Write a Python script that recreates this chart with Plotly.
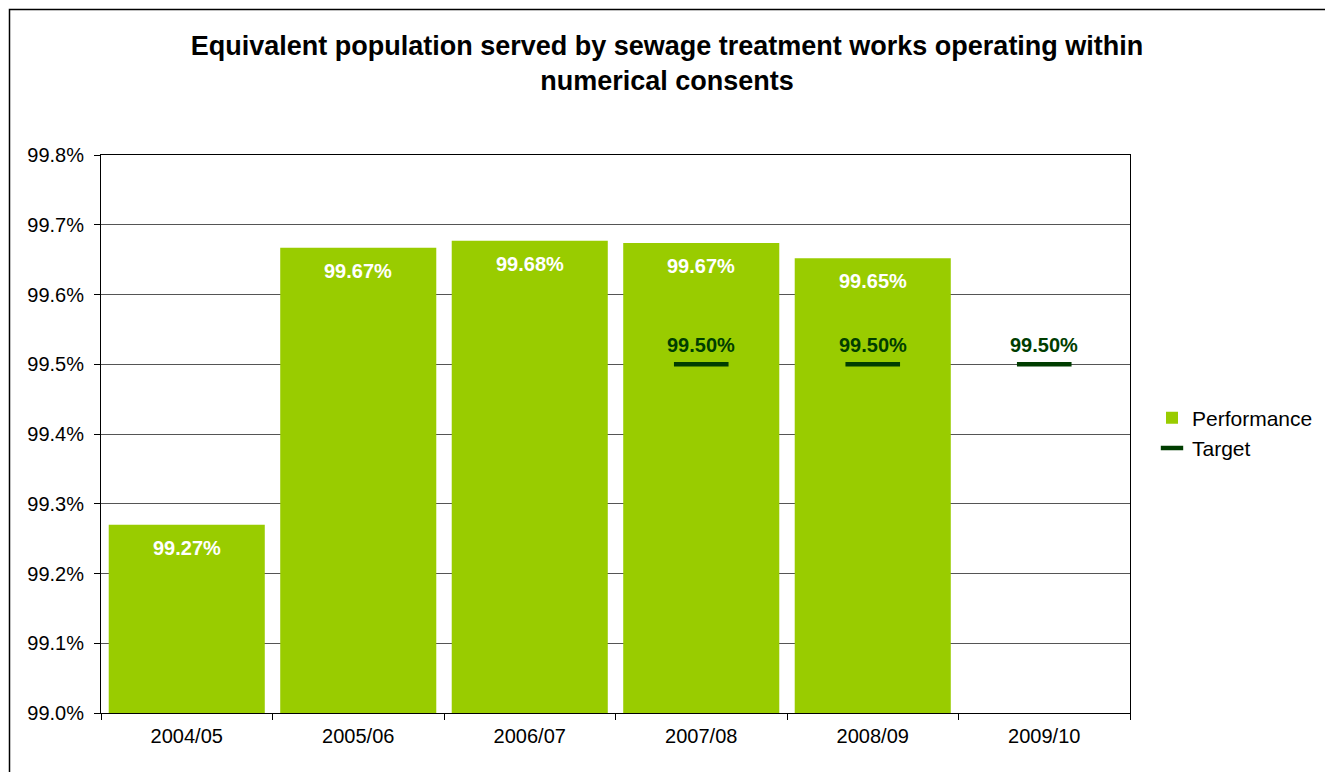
import plotly.graph_objects as go

categories = ["2004/05", "2005/06", "2006/07", "2007/08", "2008/09", "2009/10"]
performance = [99.27, 99.667, 99.677, 99.674, 99.652, None]
performance_labels = ["99.27%", "99.67%", "99.68%", "99.67%", "99.65%", ""]
target = [None, None, None, 99.50, 99.50, 99.50]
target_labels = ["", "", "", "99.50%", "99.50%", "99.50%"]
y_ticks = [99.0, 99.1, 99.2, 99.3, 99.4, 99.5, 99.6, 99.7, 99.8]
y_tick_text = [f"{v:.1f}%" for v in y_ticks]

OFF = 8  # page body margin
W, H = 1333, 772
L, R, T, B = 101 - OFF, 1130 - OFF, 155 - OFF, 713 - OFF
FONT = "Liberation Sans, Arial, sans-serif"
TGT = "#003d00"

fig = go.Figure()
fig.add_trace(go.Bar(
    x=categories, y=performance, name="Performance",
    marker=dict(color="#99CC00", line=dict(width=0)),
))
fig.add_trace(go.Scatter(
    x=categories, y=target, name="Target", mode="markers",
    marker=dict(symbol="line-ew", size=39, line=dict(width=4.5, color=TGT), color=TGT),
))

annotations = []
for c, v, t in zip(categories, performance, performance_labels):
    if v is not None:
        annotations.append(dict(x=c, y=v, text=f"<b>{t}</b>", showarrow=False,
                                yanchor="middle", yshift=-23,
                                font=dict(family=FONT, size=20, color="white")))
for c, v, t in zip(categories, target, target_labels):
    if v is not None:
        annotations.append(dict(x=c, y=v, text=f"<b>{t}</b>", showarrow=False,
                                yanchor="middle", yshift=19,
                                font=dict(family=FONT, size=20, color=TGT)))

pw, ph = R - L, B - T
def px(x): return (x - OFF - L) / pw
def py(y): return (B - (y - OFF)) / ph

fig.update_layout(
    width=W, height=H,
    margin=dict(l=L, r=W - R, t=T, b=H - B),
    paper_bgcolor="white", plot_bgcolor="white",
    bargap=0.09,
    font=dict(family=FONT, size=20, color="black"),
    title=dict(text="<b>Equivalent population served by sewage treatment works operating within<br>numerical consents</b>",
               x=(0.5 * (6 + 1328) - OFF) / W, xanchor="center", y=1 - 47 / H, yanchor="middle",
               font=dict(family=FONT, size=27, color="black")),
    xaxis=dict(type="category", showline=True, linecolor="black", linewidth=1, mirror=True,
               ticks="outside", tickson="boundaries", ticklen=6, tickcolor="black",
               showgrid=False, tickfont=dict(size=20), ticklabelstandoff=5),
    yaxis=dict(range=[99.0, 99.8], tickmode="array", tickvals=y_ticks, ticktext=y_tick_text,
               showline=True, linecolor="black", linewidth=1, mirror=True,
               ticks="outside", ticklen=6, tickcolor="black",
               showgrid=True, gridcolor="#555555", gridwidth=1, tickfont=dict(size=20),
               zeroline=False, ticklabelstandoff=6),
    legend=dict(x=px(1152), xanchor="left", y=py(433), yanchor="middle",
                font=dict(family=FONT, size=21), tracegroupgap=6, bgcolor="rgba(0,0,0,0)"),
    annotations=annotations,
    shapes=[dict(type="rect", xref="paper", yref="paper",
                 x0=px(9.5), x1=px(1328), y0=py(790), y1=py(9.5),
                 line=dict(color="black", width=1.5), fillcolor="rgba(0,0,0,0)", layer="below")],
)

fig.write_html("out.html")
